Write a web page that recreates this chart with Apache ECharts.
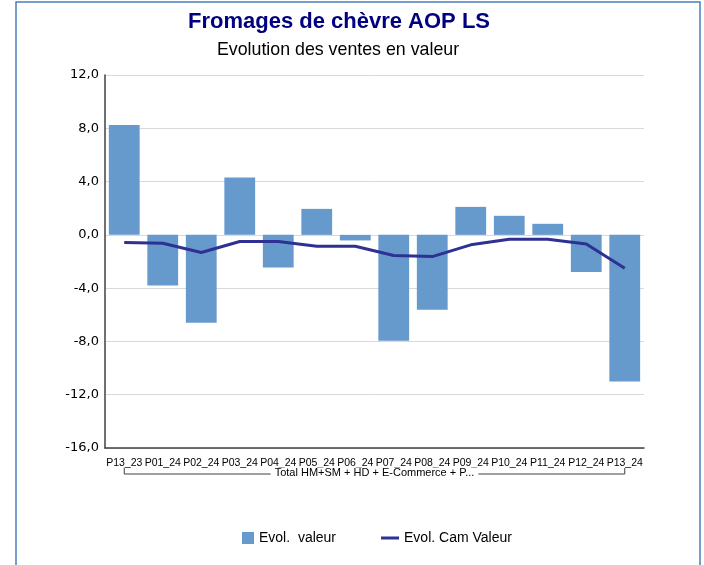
<!DOCTYPE html>
<html lang="fr">
<head>
<meta charset="UTF-8">
<title>Fromages de chèvre AOP LS</title>
<script src="https://cdn.jsdelivr.net/npm/echarts@6/dist/echarts.min.js"></script>
<style>
  html, body { margin: 0; padding: 0; background: #fff; }
  #main { width: 704px; height: 565px; }
</style>
</head>
<body>
<div id="main"></div>
<script type="text/javascript">
  // periodes
  var periodes = ['P13_23', 'P01_24', 'P02_24', 'P03_24', 'P04_24', 'P05_24', 'P06_24',
                  'P07_24', 'P08_24', 'P09_24', 'P10_24', 'P11_24', 'P12_24', 'P13_24'];
  var evolValeur = [8.25, -3.8, -6.6, 4.3, -2.45, 1.95, -0.42, -7.95, -5.63, 2.1, 1.43, 0.83, -2.78, -11.0];
  var evolCam = [-0.57, -0.63, -1.32, -0.5, -0.5, -0.85, -0.85, -1.55, -1.63, -0.75, -0.33, -0.33, -0.68, -2.5];
  var groupe = 'Total HM+SM + HD + E-Commerce + P...';
  var nomBarres = 'Evol.  valeur';
  var nomLigne = 'Evol. Cam Valeur';

  var myChart = echarts.init(document.getElementById('main'));

  var option = {
    backgroundColor: '#fff',
    animation: false,
    title: [{
      text: 'Fromages de chèvre AOP LS',
      left: 334, top: 6, textAlign: 'center',
      textStyle: { fontFamily: 'Liberation Sans', fontWeight: 'bold', fontSize: 22, color: '#000080' }
    }, {
      text: 'Evolution des ventes en valeur',
      left: 333, top: 36, textAlign: 'center',
      textStyle: { fontFamily: 'Liberation Sans', fontWeight: 'normal', fontSize: 17.8, color: '#000' }
    }],
    legend: {
      left: 231, top: 526,
      itemWidth: 18, itemHeight: 12, itemGap: 45,
      textStyle: { fontFamily: 'Liberation Sans', fontSize: 14, color: '#000' },
      data: [
        { name: nomBarres, icon: 'path://M0,0M18,12M6,0h12v12h-12z' },
        { name: nomLigne, icon: 'path://M0,0M18,12M0,4.5h18v3h-18z' }
      ]
    },
    grid: { left: 105, right: 60, top: 75, bottom: 117 },
    xAxis: {
      type: 'category',
      data: periodes,
      axisLine: { onZero: false, lineStyle: { color: '#404040', width: 1.5 } },
      axisTick: { show: false },
      axisLabel: {
        interval: 0, margin: 10,
        fontFamily: 'Liberation Sans', fontSize: 10.5, color: '#000'
      }
    },
    yAxis: {
      type: 'value',
      min: -16, max: 12, interval: 4,
      axisLine: { show: true, lineStyle: { color: '#404040', width: 1.5 } },
      axisTick: { show: false },
      axisLabel: {
        margin: 6,
        fontFamily: 'DejaVu Sans', fontSize: 13, color: '#000',
        formatter: function (v) { return v.toFixed(1).replace('.', ','); }
      },
      splitLine: { lineStyle: { color: '#d9d9d9', width: 1 } }
    },
    series: [{
      name: nomBarres,
      type: 'bar',
      data: evolValeur,
      barWidth: '80%',
      itemStyle: { color: '#6699cc' }
    }, {
      name: nomLigne,
      type: 'line',
      data: evolCam,
      symbol: 'none',
      z: 5,
      lineStyle: { color: '#2e3192', width: 3 },
      itemStyle: { color: '#2e3192' }
    }]
  };
  myChart.setOption(option);

  // accolade du groupe sous les categories
  var x0 = myChart.convertToPixel({ xAxisIndex: 0 }, periodes[0]);
  var x1 = myChart.convertToPixel({ xAxisIndex: 0 }, periodes[periodes.length - 1]);
  var yB = 474;
  myChart.setOption({
    graphic: [{
      type: 'rect',
      shape: { x: 16, y: 2, width: 684, height: 620 },
      style: { fill: 'none', stroke: '#4a7ebb', lineWidth: 1.5 },
      silent: true
    }, {
      type: 'polyline',
      shape: { points: [[x0, yB - 6], [x0, yB], [x1, yB], [x1, yB - 6]] },
      style: { fill: 'none', stroke: '#404040', lineWidth: 1 },
      silent: true
    }, {
      type: 'text',
      x: (x0 + x1) / 2, y: yB - 1,
      style: {
        text: groupe, align: 'center', verticalAlign: 'middle',
        font: '11px "Liberation Sans"', fill: '#000',
        backgroundColor: '#fff', padding: [0, 4]
      },
      z: 10, silent: true
    }]
  });
</script>
</body>
</html>
